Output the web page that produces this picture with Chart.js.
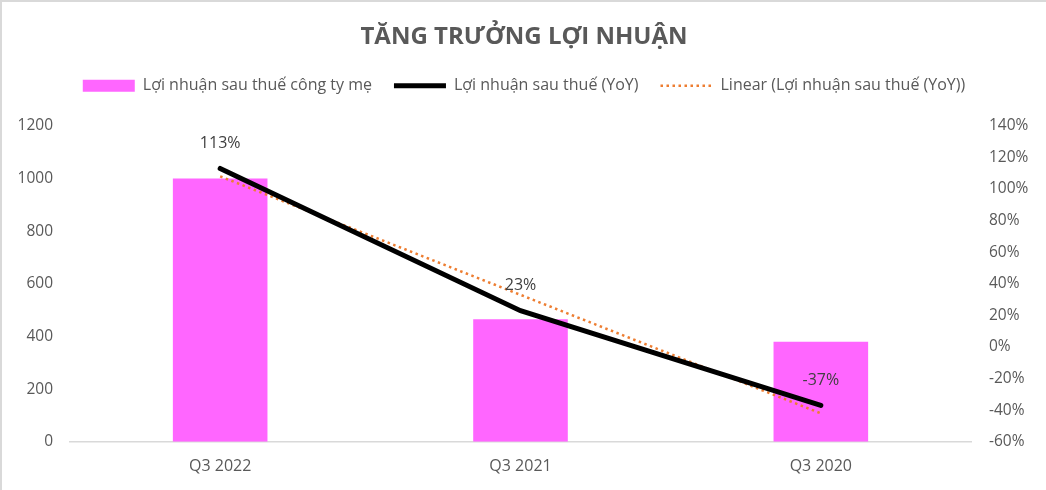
<!DOCTYPE html>
<html>
<head>
<meta charset="utf-8">
<script src="https://cdn.jsdelivr.net/npm/chart.js@4.4.1/dist/chart.umd.min.js"></script>
<style>
html, body { margin:0; padding:0; background:#fff; }
#wrap { position:relative; width:1046px; height:490px; box-sizing:border-box;
  border-top:2px solid #d9d9d9; border-left:2px solid #d9d9d9; }
</style>
</head>
<body>
<div id="wrap"><canvas id="chart"></canvas></div>
<script>
/* data */
const categories = ['Q3 2022', 'Q3 2021', 'Q3 2020'];
const profit     = [1000, 465, 380];     // Lợi nhuận sau thuế công ty mẹ
const yoy        = [113, 23, -37];       // Lợi nhuận sau thuế (YoY), %
const yoyTrend   = [108, 33, -42];       // Linear trend, %
const leftAxis   = [0, 1200, 200];       // min, max, step
const rightAxis  = [-60, 140, 20];       // min, max, step (%)

const GREY = '#595959';
const FONT = '"Open Sans", "Noto Sans", sans-serif';

/* ── % labels above the YoY line ── */
const yoyLabels = {
  id:'yoyLabels',
  afterDatasetsDraw(chart) {
    const meta = chart.getDatasetMeta(1);
    const ctx = chart.ctx;
    ctx.save();
    ctx.font = '16px ' + FONT;
    ctx.fillStyle = '#404040';
    ctx.textAlign = 'center';
    ctx.textBaseline = 'middle';
    meta.data.forEach((pt, i) => ctx.fillText(yoy[i] + '%', pt.x, pt.y - 25));
    ctx.restore();
  }
};

/* ── extra room under the legend ── */
const legendGap = {
  id:'legendGap',
  beforeUpdate(chart) {
    const lg = chart.legend;
    if (!lg || lg._gapped) return;
    const fit = lg.fit;
    lg.fit = function() { fit.call(this); this.height += 22; };
    lg._gapped = true;
  }
};

new Chart(document.getElementById('chart'), {
  type:'bar',
  data:{
    labels:categories,
    datasets:[
      { type:'bar', label:'Lợi nhuận sau thuế công ty mẹ', data:profit, yAxisID:'y',
        backgroundColor:'#ff66ff', categoryPercentage:1, barPercentage:0.315, order:3 },
      { type:'line', label:'Lợi nhuận sau thuế (YoY)', data:yoy, yAxisID:'y1',
        borderColor:'#000', borderWidth:5, pointRadius:0, borderCapStyle:'round', order:1 },
      { type:'line', label:'Linear (Lợi nhuận sau thuế (YoY))', data:yoyTrend, yAxisID:'y1',
        borderColor:'#ed7d31', borderWidth:2.5, borderDash:[2.5, 3.5], pointRadius:0, order:2 }
    ]
  },
  options:{
    responsive:true,
    maintainAspectRatio:false,
    animation:false,
    layout:{ padding:{ left:0, right:0, top:3, bottom:7 } },
    plugins:{
      title:{ display:true, text:'TĂNG TRƯỞNG LỢI NHUẬN', color:GREY,
        font:{ family:FONT, size:24, weight:'bold' }, padding:{ top:18, bottom:4 } },
      legend:{ position:'top',
        labels:{
          color:GREY, font:{ family:FONT, size:16 }, usePointStyle:true, pointStyleWidth:52,
          boxHeight:12, padding:22,
          generateLabels(chart) {
            return chart.data.datasets.map((ds, i) => ({
              text:ds.label, datasetIndex:i, fontColor:GREY,
              pointStyle: ds.type === 'bar' ? 'rect' : 'line',
              fillStyle: ds.type === 'bar' ? ds.backgroundColor : 'transparent',
              strokeStyle: ds.type === 'bar' ? ds.backgroundColor : ds.borderColor,
              lineWidth: ds.type === 'bar' ? 0 : ds.borderWidth,
              lineDash: ds.borderDash || []
            }));
          }
        }
      },
      tooltip:{ enabled:false }
    },
    scales:{
      x:{ grid:{ display:false }, border:{ color:'#d9d9d9', width:1.5 },
        ticks:{ color:GREY, font:{ family:FONT, size:16 }, padding:7 } },
      y:{ position:'left', min:leftAxis[0], max:leftAxis[1],
        grid:{ display:false }, border:{ display:false },
        afterFit:s => { s.width = 68; },
        ticks:{ stepSize:leftAxis[2], color:GREY, font:{ family:FONT, size:15.5 }, padding:9,
          callback:v => String(v) } },
      y1:{ position:'right', min:rightAxis[0], max:rightAxis[1],
        grid:{ display:false }, border:{ display:false },
        afterFit:s => { s.width = 75; },
        ticks:{ stepSize:rightAxis[2], color:GREY, font:{ family:FONT, size:15.5 }, padding:10,
          callback:v => v + '%' } }
    }
  },
  plugins:[yoyLabels, legendGap]
});
</script>
</body>
</html>
